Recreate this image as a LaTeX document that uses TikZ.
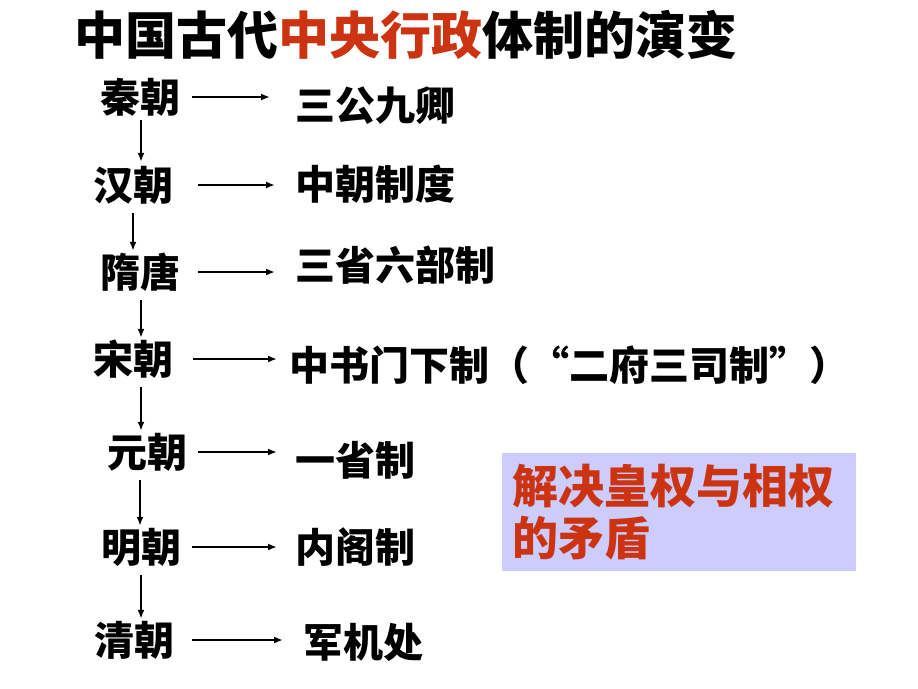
\documentclass[tikz,border=0pt]{standalone}
\usepackage{fontspec}
\setmainfont{Noto Sans CJK SC}
\usepackage{tikz}
\usetikzlibrary{arrows,arrows.meta}
\usetikzlibrary{calc}
\definecolor{hongse}{RGB}{204,51,17}
\definecolor{dianzi}{RGB}{204,204,255}

\tikzset{
  chao/.style={inner sep=0pt, font=\fontsize{40}{40}\selectfont\bfseries, text height=33pt, text depth=3pt},
  zhidu/.style={chao, anchor=west},
  jian/.style={line width=2.4pt, -{Latex[length=9pt,width=7pt]}},
  xia/.style={jian, shorten <=10pt, shorten >=3pt}
}

\begin{document}
\begin{tikzpicture}[x=1pt, y=-1pt]

    \useasboundingbox (0, 0) rectangle (918, 688);

    \node[inner sep=0pt, font=\fontsize{51}{51}\selectfont\bfseries, text height=42pt, text depth=4pt] (biaoti) at (406, 35) {中国古代\textcolor{hongse}{中央行政}体制的演变};

    % dynasties
    \node[chao] (qin)  at (140, 97)  {秦朝};
    \node[chao] (han)  at (133, 185) {汉朝};
    \node[chao] (sui)  at (140, 272) {隋唐};
    \node[chao] (song) at (133, 359) {宋朝};
    \node[chao] (yuan) at (147, 452) {元朝};
    \node[chao] (ming) at (141, 547) {明朝};
    \node[chao] (qing) at (134, 640) {清朝};

    % systems
    \node[zhidu] (sangong)  at (295, 105) {三公九卿};
    \node[zhidu] (zhongchao) at (295, 184) {中朝制度};
    \node[zhidu] (sansheng) at (295, 265) {三省六部制};
    \node[zhidu] (zhongshu) at (289, 365) {中书门下制（“二府三司制”）};
    \node[zhidu] (yisheng)  at (295, 460) {一省制};
    \node[zhidu] (neige)    at (295, 547) {内阁制};
    \node[zhidu] (junji)    at (303, 642) {军机处};

    \draw[jian, shorten <=12pt, shorten >=25pt] (qin.east) -- (qin.east -| sangong.west);
    \draw[jian, shorten <=25pt, shorten >=20pt] (han.east) -- (han.east -| zhongchao.west);
    \draw[jian, shorten <=18pt, shorten >=20pt] (sui.east) -- (sui.east -| sansheng.west);
    \draw[jian, shorten <=20pt, shorten >=12pt] (song.east) -- (song.east -| zhongshu.west);
    \draw[jian, shorten <=11pt, shorten >=18pt] (yuan.east) -- (yuan.east -| yisheng.west);
    \draw[jian, shorten <=11pt, shorten >=18pt] (ming.east) -- (ming.east -| neige.west);
    \draw[jian, shorten <=18pt, shorten >=20pt] (qing.east) -- (qing.east -| junji.west);

    \draw[xia, shorten <=5pt, shorten >=5pt] ([xshift=1pt]qin.south) -- ([xshift=1pt]qin.south |- han.north);
    \draw[xia] (han.south) -- (han.south |- sui.north);
    \draw[xia] ([xshift=1pt]sui.south) -- ([xshift=1pt]sui.south |- song.north);
    \draw[xia] ([xshift=8pt]song.south) -- ([xshift=8pt]song.south |- yuan.north);
    \draw[xia] ([xshift=-7pt]yuan.south) -- ([xshift=-7pt]yuan.south |- ming.north);
    \draw[xia] (ming.south) -- (ming.south |- qing.north);

    \node[fill=dianzi, text=hongse, inner xsep=10pt, inner ysep=0pt, text width=334pt, minimum height=118pt, align=left, font=\fontsize{46}{52}\selectfont\bfseries] (maodun) at (679, 512) {解决皇权与相权\\的矛盾};

\end{tikzpicture}
\end{document}
